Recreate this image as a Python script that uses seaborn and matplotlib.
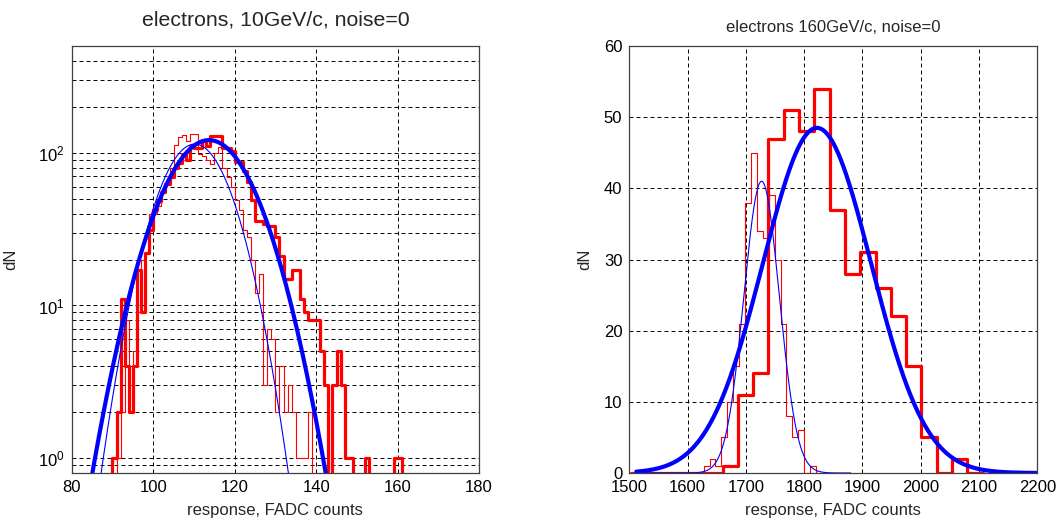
import numpy as np
import pandas as pd
import seaborn as sns
import matplotlib
matplotlib.use('Agg')
import matplotlib.pyplot as plt
from matplotlib.ticker import LogLocator, NullFormatter

# ---- 10 GeV/c electrons, bin width 1 FADC count ----
lo_bin = 1.0
lo_thick_start = 89
lo_thick = [0, 1, 2, 11, 4, 2, 4, 17, 9, 22, 31, 42, 48, 55, 62, 69, 80, 86, 98, 90,
            111, 108, 108, 120, 111, 129, 129, 129, 108, 108, 103, 87, 87, 76, 64, 49,
            36, 36, 34, 33, 33, 28, 21, 15, 15, 17, 17, 11, 9, 8, 8, 8, 5, 3, 0, 3,
            5, 3, 1, 1, 0, 0, 0, 1, 0, 0, 0, 0, 0, 0, 1, 1, 0]
lo_thin_start = 90
lo_thin = [0, 1, 2, 8, 3, 5, 9, 20, 22, 40, 40, 45, 55, 62, 80, 113, 126, 130, 120,
           133, 133, 98, 95, 89, 84, 100, 109, 80, 69, 60, 49, 42, 31, 28, 20, 12, 16,
           3, 7, 6, 2, 4, 2, 3, 2, 1, 1, 1, 2, 0]

# ---- 160 GeV/c electrons ----
hi_thick_start = 1502.5
hi_thick_bin = 26.25
hi_thick = [0, 0, 0, 0, 0, 0, 1, 11, 14, 47, 51, 48, 54, 37, 28, 31, 26, 22, 15, 5,
            0, 2, 0]
hi_thin_start = 1505.8
hi_thin_bin = 10.15
hi_thin = [0, 0, 0, 0, 0, 0, 0, 0, 0, 0, 0, 0, 1, 2, 1, 5, 10, 15, 21, 38, 45, 34,
           33, 39, 30, 21, 8, 5, 6, 0, 1, 0, 0, 0, 0, 0]

# gaussian fits: amplitude, mean, sigma, x-range
lo_fit_thick = (121, 113.7, 9.04, 80, 180)
lo_fit_thin = (114, 110.2, 7.3, 80, 180)
hi_fit_thick = (48.5, 1822, 93, 1512, 2200)
hi_fit_thin = (41, 1727, 30.5, 1512, 1880)

RED = '#ff0000'
BLUE = '#0000ff'

sns.set_style('white')
plt.rcParams['font.family'] = ['Liberation Sans', 'DejaVu Sans']
plt.rcParams['mathtext.fontset'] = 'custom'
plt.rcParams['mathtext.rm'] = 'Liberation Sans'
plt.rcParams['mathtext.default'] = 'regular'

fig = plt.figure(figsize=(10.63, 5.23), dpi=100)
ax1 = fig.add_axes([0.0675, 0.0956, 0.3832, 0.8164])
ax2 = fig.add_axes([0.592, 0.0956, 0.3838, 0.8164])


def hist_line(ax, start, width, counts, lw):
    edges = start + width * np.arange(len(counts) + 1)
    df = pd.DataFrame({'x': edges, 'y': list(counts) + [counts[-1]]})
    sns.lineplot(data=df, x='x', y='y', ax=ax, color=RED, lw=lw,
                 drawstyle='steps-post', estimator=None, sort=False)


def fit_line(ax, fit, lw):
    amp, mu, sig, x0, x1 = fit
    xs = np.linspace(x0, x1, 600)
    df = pd.DataFrame({'x': xs, 'y': amp * np.exp(-(xs - mu) ** 2 / (2 * sig ** 2))})
    sns.lineplot(data=df, x='x', y='y', ax=ax, color=BLUE, lw=lw,
                 estimator=None, sort=False)


# left panel
hist_line(ax1, lo_thick_start, lo_bin, lo_thick, 2.3)
hist_line(ax1, lo_thin_start, lo_bin, lo_thin, 0.8)
fit_line(ax1, lo_fit_thick, 3.0)
fit_line(ax1, lo_fit_thin, 0.8)

# right panel
hist_line(ax2, hi_thick_start, hi_thick_bin, hi_thick, 2.3)
hist_line(ax2, hi_thin_start, hi_thin_bin, hi_thin, 0.8)
fit_line(ax2, hi_fit_thick, 3.0)
fit_line(ax2, hi_fit_thin, 0.8)

grid_kw = dict(color='black', lw=0.7, linestyle=(0, (4.1, 3.1)))

ax1.set_yscale('log')
ax1.set_xlim(80, 180)
ax1.set_ylim(0.8, 500)
ax1.set_xticks(range(80, 181, 20))
ax1.set_yticks([1, 10, 100])
ax1.set_yticklabels(['$10^{0}$', '$10^{1}$', '$10^{2}$'])
ax1.yaxis.set_minor_locator(LogLocator(base=10, subs=np.arange(2, 10)))
ax1.yaxis.set_minor_formatter(NullFormatter())
ax1.grid(True, which='major', **grid_kw)
ax1.grid(True, which='minor', axis='y', **grid_kw)
ax1.set_title('electrons, 10GeV/c, noise=0', fontsize=15.3, pad=15)

ax2.set_xlim(1500, 2200)
ax2.set_ylim(0, 60)
ax2.set_xticks(range(1500, 2201, 100))
ax2.set_yticks(range(0, 61, 10))
ax2.grid(True, which='major', **grid_kw)
ax2.set_title('electrons 160GeV/c, noise=0', fontsize=12, pad=10)

for ax, ylx in [(ax1, -0.132), (ax2, -0.09)]:
    ax.set_axisbelow(True)
    ax.set_xlabel('response, FADC counts', fontsize=12, labelpad=6)
    ax.set_ylabel('dN', fontsize=12)
    ax.yaxis.set_label_coords(ylx, 0.5)
    ax.tick_params(axis='both', which='both', direction='in', labelsize=12,
                   colors='black', length=3, pad=5)
    ax.tick_params(which='minor', length=1.5)
    for s in ax.spines.values():
        s.set_color('#404040')
        s.set_linewidth(0.9)

fig.savefig('out.png', dpi=100, facecolor='white')
